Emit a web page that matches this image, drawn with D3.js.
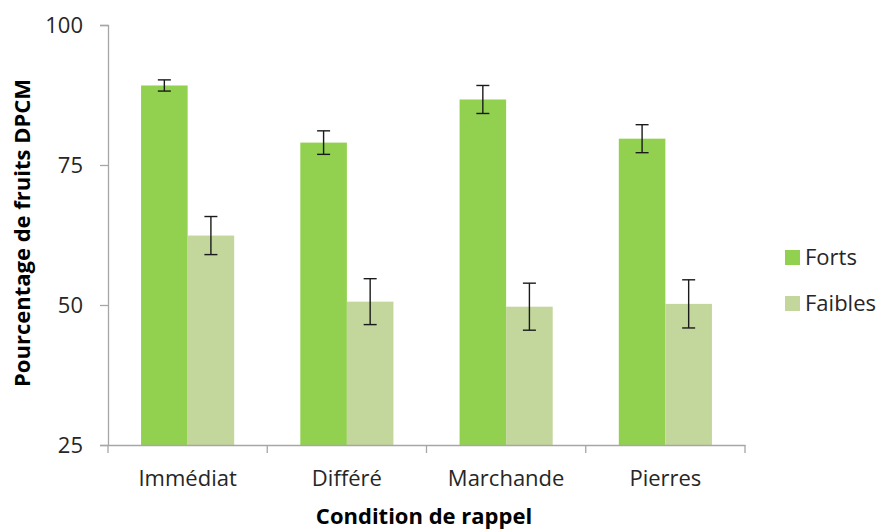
<!DOCTYPE html>
<html><head><meta charset="utf-8">
<script src="https://cdn.jsdelivr.net/npm/d3@7"></script>
<style>body{margin:0;background:#fff;} text{font-family:"Open Sans", sans-serif;}</style>
</head><body><svg id="c" width="880" height="531"></svg>
<script>
const categories = ["Immédiat", "Différé", "Marchande", "Pierres"];
const seriesNames = ["Forts", "Faibles"];
const forts = [89.2, 79.0, 86.7, 79.7];
const faibles = [62.4, 50.6, 49.7, 50.2];
const fortsErr = [1.0, 2.1, 2.5, 2.5];
const faiblesErr = [3.4, 4.1, 4.2, 4.3];
const yTicks = [25, 50, 75, 100];
const colors = ["#92D050", "#C3D69B"];

const svg = d3.select("#c");
const mLeft = 108, mRight = 745, mTop = 25, mBottom = 445;
const x = d3.scaleBand().domain(categories).range([mLeft, mRight]).paddingInner(0).paddingOuter(0);
const inner = d3.scaleBand().domain(seriesNames).range([0, x.bandwidth()]).paddingOuter(0.71).paddingInner(0);
const y = d3.scaleLinear().domain([25, 100]).range([mBottom, mTop]);

const data = [];
categories.forEach((c, i) => {
  data.push({c, s: "Forts", v: forts[i], e: fortsErr[i], col: colors[0]});
  data.push({c, s: "Faibles", v: faibles[i], e: faiblesErr[i], col: colors[1]});
});

svg.selectAll("rect.bar").data(data).enter().append("rect")
  .attr("x", d => x(d.c) + inner(d.s))
  .attr("y", d => y(d.v))
  .attr("width", inner.bandwidth())
  .attr("height", d => y(25) - y(d.v))
  .attr("fill", d => d.col);

const FS = 22;
// axes
const yAxis = d3.axisLeft(y).tickValues(yTicks).tickSize(8).tickPadding(17);
const gy = svg.append("g").attr("transform", `translate(${mLeft},0)`).call(yAxis);
gy.select(".domain").attr("stroke", "#a6a6a6").attr("stroke-width", 1.3);
gy.selectAll(".tick line").attr("stroke", "#a6a6a6").attr("stroke-width", 1.3);
gy.selectAll(".tick text").attr("font-size", FS).attr("fill", "#262626").style("font-family", "Open Sans");

const xAxis = d3.axisBottom(x).tickSize(0).tickPadding(25);
const gx = svg.append("g").attr("transform", `translate(0,${mBottom})`).call(xAxis);
gx.select(".domain").attr("stroke", "#a6a6a6").attr("stroke-width", 1.3);
gx.selectAll(".tick text").attr("font-size", FS).attr("fill", "#262626").style("font-family", "Open Sans");
// category boundary ticks
const bounds = categories.map(c => x(c)).concat([x(categories[categories.length-1]) + x.bandwidth()]);
svg.append("g").selectAll("line").data(bounds).enter().append("line")
  .attr("x1", d => d).attr("x2", d => d).attr("y1", mBottom).attr("y2", mBottom + 8)
  .attr("stroke", "#a6a6a6").attr("stroke-width", 1.3);

// error bars
const eb = svg.append("g").attr("stroke", "#1a1a1a").attr("stroke-width", 1.4);
data.forEach(d => {
  const cx = x(d.c) + inner(d.s) + inner.bandwidth() / 2;
  eb.append("line").attr("x1", cx).attr("x2", cx).attr("y1", y(d.v + d.e)).attr("y2", y(d.v - d.e));
  eb.append("line").attr("x1", cx - 6.5).attr("x2", cx + 6.5).attr("y1", y(d.v + d.e)).attr("y2", y(d.v + d.e));
  eb.append("line").attr("x1", cx - 6.5).attr("x2", cx + 6.5).attr("y1", y(d.v - d.e)).attr("y2", y(d.v - d.e));
});

// axis titles
svg.append("text").attr("x", 424).attr("y", 524).attr("text-anchor", "middle")
  .attr("font-size", FS).attr("font-weight", "bold").attr("fill", "#000").text("Condition de rappel");
svg.append("text").attr("transform", "translate(30,233) rotate(-90)").attr("text-anchor", "middle")
  .attr("font-size", FS).attr("font-weight", "bold").attr("fill", "#000").text("Pourcentage de fruits DPCM");

// legend
const lg = svg.append("g");
seriesNames.forEach((s, i) => {
  const yy = 250 + i * 46;
  lg.append("rect").attr("x", 785).attr("y", yy).attr("width", 15).attr("height", 15).attr("fill", colors[i]);
  lg.append("text").attr("x", 805).attr("y", yy + 7.5).attr("dy", "0.35em").attr("font-size", FS).attr("fill", "#262626").text(s);
});
</script></body></html>
